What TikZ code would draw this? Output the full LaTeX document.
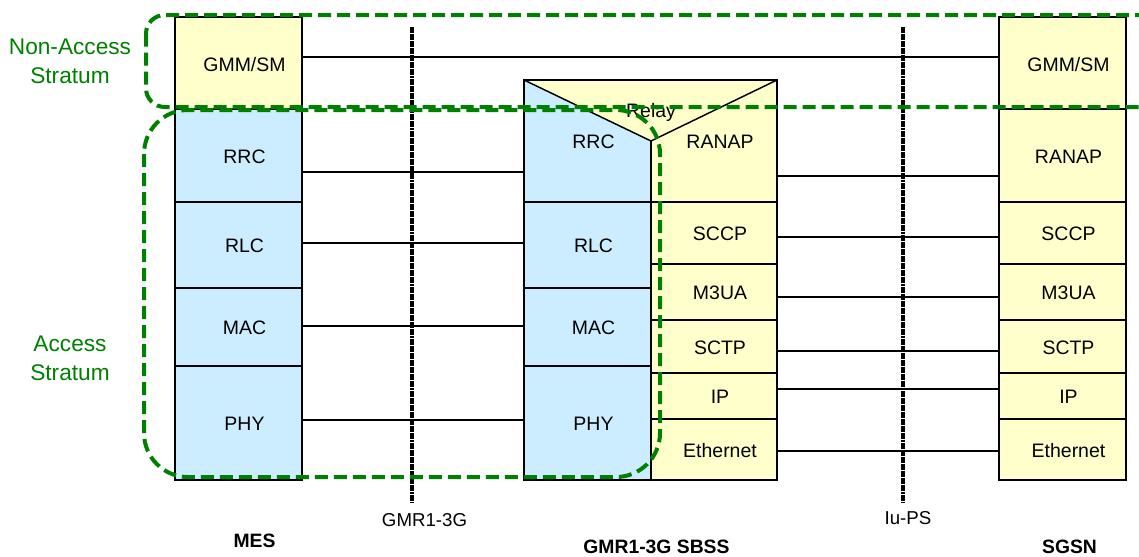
\documentclass[tikz,border=0pt]{standalone}
\usepackage{fontspec}
\setmainfont{Liberation Sans}
\usetikzlibrary{calc}
\definecolor{ly}{HTML}{FFFFCC}
\definecolor{lb}{HTML}{CCECFF}
\definecolor{gr}{HTML}{008000}
\newcommand\hlink[3]{\draw[conn] ($(#1.east)+(0,#3)$) coordinate (hl) -- (hl -| #2.west);}
\begin{document}
\begin{tikzpicture}[x=0.75pt,y=-0.75pt,
  layer/.style 2 args={draw, line width=1.1pt, inner sep=0pt, outer sep=0pt,
     minimum width=#1*0.75pt, minimum height=#2*0.75pt},
  area/.style 2 args={inner sep=0pt, outer sep=0pt,
     minimum width=#1*0.75pt, minimum height=#2*0.75pt},
  lbl/.style={label={[font=\fontsize{14.6}{16}\selectfont, xshift=4.5pt, yshift=-0.8pt]center:#1}},
  conn/.style={line width=1pt},
  vdot/.style={line width=2.3pt, dash pattern=on 2.2pt off 0.4pt},
  gdash/.style={draw=gr, line width=3pt, dash pattern=on 9.75pt off 4.5pt},
  gtext/.style={text=gr, align=center, font=\fontsize{17}{21.5}\selectfont, inner sep=0pt},
  btext/.style={font=\fontsize{14.5}{16}\selectfont\bfseries, inner sep=0pt},
  itext/.style={font=\fontsize{14}{16}\selectfont, inner sep=0pt}]
\useasboundingbox (0,0) rectangle (1139,557);
\clip (0,0) rectangle (1139,557);

% MES stack
\node[layer={127}{92}, fill=ly, lbl=GMM/SM] (mesgmm) at (238.5,63) {};
\node[layer={127}{93}, fill=lb, lbl=RRC] (mesrrc) at (238.5,155.5) {};
\node[layer={127}{86}, fill=lb, lbl=RLC] (mesrlc) at (238.5,245) {};
\node[layer={127}{78}, fill=lb, lbl=MAC] (mesmac) at (238.5,327) {};
\node[layer={127}{114}, fill=lb, lbl=PHY] (mesphy) at (238.5,423) {};

% SBSS top part (relay)
\fill[ly] (524,80) rectangle (777,202);
\fill[lb] (524,80) -- (651,141) -- (651,202) -- (524,202) -- cycle;
\draw[line width=1.1pt] (524,202) -- (524,80) -- (777,80) -- (777,202);
\draw[line width=1.1pt] (524,80) -- (651,141) -- (777,80);
\draw[line width=1.1pt] (651,141) -- (651,202);
\node[area={127}{122}, lbl=RRC] (sbssrrc) at (587.5,141) {};
\node[area={126}{122}, lbl=RANAP] (sbssranap) at (714,141) {};
\node[font=\fontsize{14.6}{16}\selectfont, inner sep=0pt] (relay) at (651,112) {Relay};

% SBSS left column
\node[layer={127}{86}, fill=lb, lbl=RLC] (sbssrlc) at (587.5,245) {};
\node[layer={127}{78}, fill=lb, lbl=MAC] (sbssmac) at (587.5,327) {};
\node[layer={127}{114}, fill=lb, lbl=PHY] (sbssphy) at (587.5,423) {};
% SBSS right column
\node[layer={126}{62}, fill=ly, lbl=SCCP] (sbsssccp) at (714,233) {};
\node[layer={126}{56}, fill=ly, lbl=M3UA] (sbssm3ua) at (714,292) {};
\node[layer={126}{53}, fill=ly, lbl=SCTP] (sbsssctp) at (714,346.5) {};
\node[layer={126}{46}, fill=ly, lbl=IP] (sbssip) at (714,396) {};
\node[layer={126}{61}, fill=ly, lbl=Ethernet] (sbsseth) at (714,449.5) {};

% SGSN stack
\node[layer={127}{92}, fill=ly, lbl=GMM/SM] (sgsngmm) at (1062.5,63) {};
\node[layer={127}{93}, fill=ly, lbl=RANAP] (sgsnranap) at (1062.5,155.5) {};
\node[layer={127}{62}, fill=ly, lbl=SCCP] (sgsnsccp) at (1062.5,233) {};
\node[layer={127}{56}, fill=ly, lbl=M3UA] (sgsnm3ua) at (1062.5,292) {};
\node[layer={127}{53}, fill=ly, lbl=SCTP] (sgsnsctp) at (1062.5,346.5) {};
\node[layer={127}{46}, fill=ly, lbl=IP] (sgsnip) at (1062.5,396) {};
\node[layer={127}{61}, fill=ly, lbl=Ethernet] (sgsneth) at (1062.5,449.5) {};

% peer connectors
\hlink{mesgmm}{sgsngmm}{-6}
\hlink{mesrrc}{sbssrrc}{16.5}
\hlink{mesrlc}{sbssrlc}{-2}
\hlink{mesmac}{sbssmac}{-1}
\hlink{mesphy}{sbssphy}{-3}
\hlink{sbssranap}{sgsnranap}{35}
\hlink{sbsssccp}{sgsnsccp}{4}
\hlink{sbssm3ua}{sgsnm3ua}{5}
\hlink{sbsssctp}{sgsnsctp}{4.5}
\hlink{sbssip}{sgsnip}{-7}
\hlink{sbsseth}{sgsneth}{1.5}

% interfaces
\coordinate (gmrtop) at (412,27);
\coordinate (gmrbot) at (412,502);
\coordinate (iutop) at (903,27);
\coordinate (iubot) at (903,502);
\draw[vdot] (gmrtop) -- (gmrbot);
\draw[vdot] (iutop) -- (iubot);
\node[itext] (gmrlab) at (424.5,520) {GMR1-3G};
\node[itext] (iulab) at (908,518) {Iu-PS};

% entity names
\node[btext] (mesname) at (254.5,541) {MES};
\node[btext] (sbssname) at (656.5,547) {GMR1-3G SBSS};
\node[btext] (sgsnname) at (1069.5,547) {SGSN};

% strata
\draw[gdash, rounded corners=14pt] (146,15) rectangle (1175,107);
\draw[gdash, rounded corners=33pt] (144,110) rectangle (660,477);
\node[gtext] (nastext) at (70,61) {Non-Access\\Stratum};
\node[gtext] (astext) at (70,358) {Access\\Stratum};
\end{tikzpicture}
\end{document}
